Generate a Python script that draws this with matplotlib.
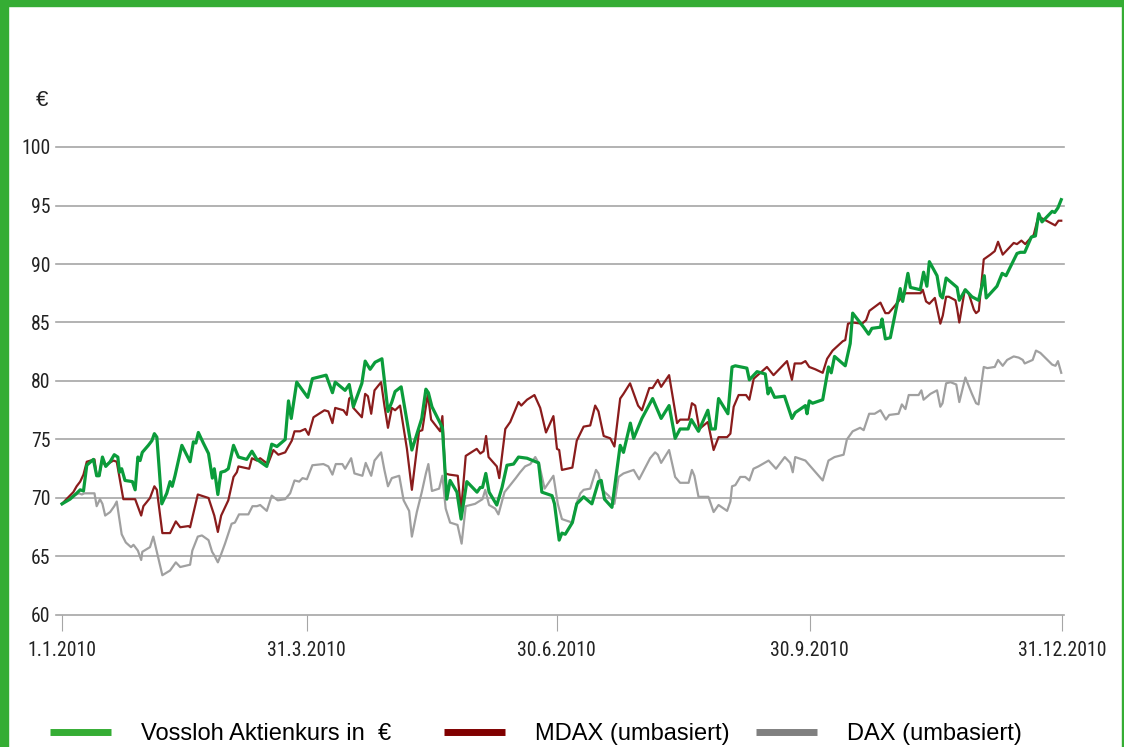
import matplotlib
matplotlib.use("Agg")
import matplotlib.pyplot as plt
from matplotlib import font_manager
from matplotlib.lines import Line2D
from matplotlib.patches import Rectangle

# Tage seit 1.1.2010 und Kurswerte
vossloh_days = [0.0, 2.9, 5.3, 6.6, 7.8, 9.0, 11.4, 12.6, 13.5, 14.7, 15.9, 17.5, 19.0, 20.3, 20.9, 21.7,
                22.9, 25.6, 26.6, 27.6, 28.4, 29.2, 31.4, 32.7, 33.6, 34.5, 36.3, 38.1, 39.3, 40.1, 41.1,
                43.6, 46.6, 47.8, 48.7, 49.6, 51.4, 53.3, 54.7, 55.4, 56.7, 57.8, 59.3, 60.5, 62.4, 64.2,
                67.2, 69.1, 70.9, 72.7, 74.5, 76.3, 78.2, 81.2, 82.4, 83.4, 85.4, 89.4, 91.1, 96.1, 98.4,
                99.4, 103.0, 104.5, 106.0, 109.1, 110.3, 112.1, 113.9, 116.4, 118.6, 120.0, 121.2, 123.4,
                127.3, 130.9, 132.4, 133.3, 134.6, 137.6, 138.4, 140.0, 141.2, 143.7, 145.2, 147.3, 151.0,
                152.2, 153.0, 154.2, 155.4, 158.2, 160.1, 161.9, 164.3, 166.1, 169.2, 173.4, 174.6, 178.3,
                179.2, 180.9, 181.9, 183.1, 185.7, 187.3, 189.8, 192.8, 195.2, 196.2, 197.4, 200.1, 203.1,
                204.3, 206.8, 208.0, 211.0, 214.9, 218.0, 220.9, 223.1, 224.9, 227.8, 229.0, 231.6, 235.0,
                236.2, 237.7, 238.9, 242.3, 243.8, 245.0, 249.2, 250.1, 252.9, 255.9, 256.9, 257.7, 259.3,
                262.9, 265.6, 266.8, 270.5, 271.1, 271.9, 273.1, 276.8, 278.9, 279.9, 281.1, 285.0, 286.8,
                287.7, 291.7, 293.5, 294.7, 297.8, 298.4, 299.6, 301.4, 305.0, 305.9, 307.8, 308.7, 312.3,
                313.5, 314.7, 315.6, 318.4, 319.6, 320.4, 321.7, 325.7, 326.5, 328.7, 331.1, 333.5, 335.6,
                336.3, 340.2, 342.1, 343.5, 347.5, 348.7, 350.3, 352.7, 354.2, 355.4, 356.6, 360.3, 361.2,
                362.4, 363.6]
vossloh = [69.5, 69.9, 70.4, 70.7, 70.6, 72.8, 73.3, 71.9, 71.9, 73.5, 72.7, 73.1, 73.7, 73.5, 72.2, 72.5,
           71.5, 71.4, 70.7, 73.5, 73.2, 73.9, 74.5, 74.9, 75.5, 75.2, 69.5, 70.4, 71.4, 71.0, 71.9,
           74.5, 73.1, 74.8, 74.7, 75.6, 74.7, 73.8, 71.7, 72.5, 70.3, 72.2, 72.3, 72.5, 74.5, 73.5,
           73.3, 74.0, 73.3, 73.0, 72.7, 74.6, 74.4, 75.0, 78.3, 76.8, 79.9, 78.6, 80.2, 80.5, 79.0,
           79.9, 79.2, 79.7, 77.8, 79.8, 81.7, 81.0, 81.6, 81.9, 77.4, 78.2, 79.1, 79.5,
           74.1, 76.8, 79.3, 79.0, 77.8, 76.4, 76.0, 69.9, 71.5, 70.5, 68.2, 71.4, 70.5,
           70.9, 70.9, 72.1, 70.5, 69.4, 70.9, 72.8, 72.9, 73.5, 73.4, 73.0, 70.5, 70.2,
           69.5, 66.4, 67.0, 66.9, 67.9, 69.5, 70.1, 69.5, 71.4, 71.5, 69.9, 69.2, 74.5,
           73.9, 76.4, 75.1, 76.8, 78.5, 76.8, 77.9, 75.1, 75.9, 75.9, 76.7, 75.7, 77.5,
           75.9, 75.9, 78.5, 77.2, 81.2, 81.3, 81.1, 80.1, 80.8, 80.6, 78.9, 79.4, 78.6,
           78.7, 76.8, 77.3, 77.9, 77.2, 78.3, 78.1, 78.4, 81.2, 80.7, 82.1, 81.3, 83.2,
           85.8, 84.6, 84.0, 84.5, 84.6, 85.3, 83.6, 83.7, 87.9, 86.8, 89.2, 88.0, 87.8,
           89.3, 88.1, 90.2, 89.0, 87.3, 87.1, 88.8, 88.0, 86.9, 87.8, 87.2, 86.9, 89.0,
           87.1, 88.1, 89.2, 89.0, 90.9, 91.0, 91.0, 92.3, 92.4, 94.3, 93.6, 94.5, 94.4,
           94.8, 95.5]

mdax_days = [0.0, 1.6, 4.1, 5.3, 6.6, 7.8, 9.0, 11.8, 12.6, 13.5, 14.5, 15.7, 18.7, 19.9, 22.3, 26.6,
             28.8, 29.6, 32.0, 33.6, 34.5, 36.5, 39.3, 41.4, 43.0, 46.0, 46.6, 49.4, 53.3, 55.4, 56.7,
             57.9, 59.3, 60.5, 62.4, 63.6, 64.2, 68.1, 69.1, 70.9, 72.1, 74.9, 76.9, 78.7, 81.2, 83.6,
             84.6, 86.6, 88.5, 89.7, 91.5, 95.5, 96.9, 98.4, 99.4, 102.4, 103.6, 104.5, 105.5, 106.0,
             109.1, 110.3, 111.3, 112.5, 113.7, 116.1, 117.3, 118.6, 120.0, 121.2, 123.0, 125.5, 127.3,
             129.9, 131.1, 133.1, 134.3, 137.6, 138.4, 139.4, 140.9, 144.0, 145.2, 146.9, 150.9, 152.2,
             153.4, 154.3, 155.2, 158.2, 159.1, 161.3, 163.1, 166.1, 167.1, 169.2, 171.9, 174.0, 176.1,
             178.8, 180.1, 180.9, 181.9, 185.7, 187.3, 189.8, 192.2, 194.0, 195.2, 197.1, 199.5, 201.0,
             203.1, 204.3, 206.7, 209.6, 211.0, 213.7, 214.9, 216.8, 218.0, 220.9, 223.8, 224.9, 228.0,
             229.2, 230.4, 231.9, 235.0, 237.1, 238.9, 242.0, 243.2, 244.4, 246.2, 248.9, 250.1, 251.7,
             254.1, 256.5, 258.9, 263.8, 265.6, 266.6, 269.0, 270.5, 271.9, 274.1, 276.8, 278.4, 280.4,
             284.1, 285.0, 286.0, 287.7, 291.1, 292.6, 293.8, 297.8, 299.6, 300.8, 303.3, 305.7, 306.9,
             312.4, 313.2, 314.4, 315.6, 317.6, 318.8, 319.6, 320.5, 321.7, 322.7, 325.1, 325.7, 326.5,
             328.5, 329.9, 331.8, 332.6, 333.6, 335.4, 337.8, 339.4, 340.6, 342.3, 343.9, 346.3, 347.5,
             349.1, 350.5, 352.0, 353.6, 355.2, 356.6, 359.0, 361.4, 362.6, 363.6]
mdax = [69.5, 69.9, 70.5, 71.0, 71.4, 72.0, 73.1, 73.3, 71.9, 71.9, 73.2, 72.8, 73.2, 73.1, 69.9, 69.9,
        68.5, 69.3, 70.0, 71.0, 70.7, 67.0, 67.0, 68.0, 67.5, 67.6, 67.5, 70.3, 70.0, 68.5, 67.1,
        68.5, 69.2, 69.8, 71.8, 72.2, 72.7, 72.5, 73.4, 73.2, 73.4, 72.9, 74.1, 73.7, 73.9, 74.9,
        75.7, 75.7, 75.9, 75.4, 76.9, 77.5, 77.4, 76.4, 77.7, 77.5, 77.1, 78.5, 78.7, 77.7,
        76.9, 78.9, 78.7, 77.2, 79.2, 79.9, 77.9, 76.0, 77.7, 77.5, 77.9, 74.2, 70.7,
        75.7, 75.8, 78.9, 76.7, 75.7, 77.0, 72.1, 72.0, 71.9, 68.9, 73.6, 74.2, 73.8,
        74.0, 75.3, 73.5, 72.7, 71.7, 75.9, 76.5, 78.2, 77.9, 78.4, 78.8, 77.7, 75.6,
        77.0, 74.2, 74.1, 72.4, 72.6, 74.9, 76.1, 76.2, 77.9, 77.4, 75.3, 75.1, 74.4,
        78.5, 78.9, 79.8, 77.9, 77.5, 79.4, 79.4, 80.1, 79.5, 80.5, 76.4, 76.7, 76.7,
        78.1, 77.9, 75.9, 76.5, 74.1, 75.2, 75.2, 75.5, 77.8, 78.8, 78.8, 78.4, 80.2,
        80.7, 81.2, 80.5, 81.7, 80.1, 81.5, 81.5, 81.7, 81.2, 81.0, 80.7, 81.9, 82.6,
        83.4, 83.5, 84.9, 85.0, 84.9, 85.2, 86.0, 86.7, 85.8, 85.8, 86.5, 87.2, 87.5,
        87.5, 87.8, 86.8, 86.6, 87.1, 85.8, 84.9, 85.6, 87.2, 87.2, 86.9, 86.2, 85.0,
        87.8, 87.5, 86.1, 85.8, 86.0, 90.4, 90.8, 91.1, 91.9, 90.8, 91.2, 91.8, 91.7,
        92.0, 91.7, 92.1, 92.5, 94.0, 93.9, 93.6, 93.3, 93.7, 93.7]

dax_days = [0.0, 2.2, 4.1, 6.2, 7.2, 8.1, 9.6, 11.8, 12.6, 13.8, 14.7, 15.7, 17.5, 19.0, 19.9, 21.7,
            23.2, 25.1, 26.0, 27.6, 28.8, 29.2, 32.0, 33.2, 34.1, 36.5, 39.3, 41.4, 43.0, 46.6, 47.4,
            49.4, 50.9, 53.3, 54.6, 55.4, 56.7, 57.9, 59.3, 61.7, 62.9, 64.4, 67.8, 69.3, 70.9, 72.1,
            74.5, 76.3, 78.5, 81.2, 83.0, 84.6, 86.3, 87.5, 89.1, 91.1, 95.1, 96.9, 98.4, 99.6, 102.0,
            103.0, 105.2, 106.4, 109.3, 110.5, 112.5, 113.7, 116.1, 117.3, 118.6, 120.0, 122.7, 124.3,
            126.3, 127.3, 129.1, 130.9, 132.4, 133.3, 134.6, 137.2, 138.4, 139.6, 141.2, 143.9, 145.4,
            146.9, 150.3, 153.0, 154.0, 155.4, 157.6, 158.8, 161.0, 162.4, 165.1, 166.7, 168.5, 170.4,
            172.2, 173.6, 175.6, 178.8, 180.4, 181.9, 183.1, 185.7, 187.3, 188.6, 189.8, 192.2, 194.3,
            195.2, 196.5, 198.9, 201.0, 202.5, 204.3, 208.0, 210.0, 214.0, 215.8, 216.8, 218.0, 220.9,
            223.1, 224.9, 228.0, 229.2, 230.1, 231.6, 235.2, 237.1, 238.9, 242.0, 243.2, 243.8, 245.0,
            246.8, 248.6, 250.1, 251.6, 253.4, 257.1, 259.8, 263.0, 265.0, 265.9, 266.8, 270.5, 276.8,
            278.9, 281.1, 284.4, 285.6, 287.7, 290.4, 291.7, 293.7, 295.7, 297.8, 299.8, 301.0, 304.4,
            305.6, 306.9, 308.1, 311.7, 312.7, 313.5, 316.0, 318.4, 319.6, 320.4, 321.7, 323.3, 325.4,
            326.5, 328.7, 331.1, 332.6, 333.5, 335.4, 336.7, 339.4, 340.6, 342.3, 343.9, 346.3, 348.1,
            349.6, 350.3, 353.2, 354.4, 356.0, 360.3, 361.5, 362.4, 363.6]
dax = [69.5, 69.9, 70.2, 70.4, 70.3, 70.4, 70.4, 70.4, 69.3, 69.9, 69.5, 68.5, 68.8, 69.3, 69.7, 66.9,
       66.2, 65.8, 66.0, 65.5, 64.7, 65.4, 65.8, 66.7, 65.8, 63.4, 63.8, 64.5, 64.1, 64.3, 65.5,
       66.7, 66.8, 66.4, 65.4, 65.1, 64.5, 65.2, 66.1, 67.8, 67.9, 68.6, 68.6, 69.3, 69.3, 69.4,
       68.9, 70.2, 69.8, 69.9, 70.4, 71.5, 71.4, 71.7, 71.6, 72.8, 72.9, 72.7, 72.0, 72.9, 72.9,
       72.5, 73.4, 72.1, 71.9, 73.0, 71.9, 73.2, 73.9, 72.4, 71.0, 71.7, 71.9, 69.8,
       68.9, 66.7, 68.8, 70.5, 72.1, 72.9, 70.6, 70.8, 71.9, 69.1, 67.9, 67.7, 66.1,
       69.3, 69.5, 69.9, 70.7, 69.4, 69.1, 68.6, 70.5, 70.9, 71.7, 72.2, 72.7, 72.9,
       73.5, 72.9, 70.8, 71.9, 69.5, 68.2, 68.1, 67.9, 69.6, 70.4, 70.7, 70.8, 72.4,
       72.1, 70.7, 70.2, 69.5, 71.8, 72.1, 72.4, 71.6, 73.4, 73.9, 73.7, 73.0, 74.1,
       71.8, 71.3, 71.3, 72.4, 71.9, 70.1, 70.1, 68.8, 69.4, 68.9, 69.7, 71.0, 71.1,
       71.8, 71.8, 71.5, 72.5, 72.7, 73.2, 72.5, 73.5, 73.0, 72.2, 73.5, 73.2, 71.5,
       73.2, 73.5, 73.7, 75.0, 75.7, 76.0, 75.8, 77.2, 77.2, 77.5, 76.7, 77.1, 77.2,
       78.0, 77.6, 78.8, 78.8, 79.2, 78.4, 78.9, 79.2, 77.8, 78.1, 79.8, 79.9, 79.7,
       78.2, 80.3, 78.9, 78.1, 78.0, 81.2, 81.1, 81.2, 81.8, 81.3, 81.8, 82.1, 82.0,
       81.8, 81.5, 81.8, 82.6, 82.4, 81.4, 81.3, 81.7, 80.7]

tick_days = [0, 89, 180, 272, 364]
tick_labels = ["1.1.2010", "31.3.2010", "30.6.2010", "30.9.2010", "31.12.2010"]
y_ticks = [60, 65, 70, 75, 80, 85, 90, 95, 100]
legend_labels = ["Vossloh Aktienkurs in  €", "MDAX (umbasiert)", "DAX (umbasiert)"]
legend_colors = ["#35ad34", "#800000", "#808080"]

# schmale Schrift für die Achsen, falls vorhanden
fonts = font_manager.fontManager.ttflist
names = {f.name for f in fonts}
axis_font = {"family": ["Liberation Sans", "DejaVu Sans"], "size": 13.5}
for cand in ["Liberation Sans Narrow", "Roboto Condensed", "Open Sans Condensed", "Noto Sans Condensed"]:
    if cand in names:
        axis_font = {"family": [cand, "DejaVu Sans"], "size": 14.2}
        break
else:
    if any(f.name == "DejaVu Sans" and f.stretch == "condensed" for f in fonts):
        axis_font = {"family": ["DejaVu Sans"], "stretch": "condensed", "size": 14}

plt.rcParams["font.family"] = ["Liberation Sans", "DejaVu Sans"]

fig = plt.figure(figsize=(11.24, 7.47), dpi=100)
ax = fig.add_axes([56 / 1124, 132 / 747, 1008 / 1124, 468 / 747])

# grüner Rahmen
fig.patches.append(Rectangle((0, 0), 8 / 1124, 1, transform=fig.transFigure, color="#35ad34", zorder=0))
fig.patches.append(Rectangle((0, 1 - 6 / 747), 1, 6 / 747, transform=fig.transFigure, color="#35ad34", zorder=0))
fig.patches.append(Rectangle((1 - 2 / 1124, 0), 2 / 1124, 1, transform=fig.transFigure, color="#35ad34", zorder=0))

for y in y_ticks:
    ax.axhline(y, color="#a6a6a6", linewidth=1.2, clip_on=False, zorder=0)

ax.plot(dax_days, dax, color="#a0a0a0", linewidth=1.6, zorder=2)
ax.plot(mdax_days, mdax, color="#8a1c1c", linewidth=1.6, zorder=3)
ax.plot(vossloh_days, vossloh, color="#0b9c3b", linewidth=2.3, zorder=4)

ax.set_xlim(-2.2, 364.6)
ax.set_ylim(60, 100)
for s in ax.spines.values():
    s.set_visible(False)

ax.set_xticks(tick_days)
ax.set_xticklabels(tick_labels, color="#222222", **axis_font)
ax.set_yticks(y_ticks)
ax.set_yticklabels([str(v) for v in y_ticks], color="#222222", **axis_font)
ax.tick_params(axis="x", length=11.5, width=0.8, color="#a6a6a6", pad=7)
ax.tick_params(axis="y", length=0, pad=4)

fig.text(42 / 1124, 1 - 100 / 747, "€", fontsize=16, ha="center", va="center", color="#222222")

# Legende: drei Einträge, einzeln platziert
for label, color, x0 in zip(legend_labels, legend_colors, [50, 444, 756]):
    h = Line2D([], [], color=color, linewidth=5, solid_capstyle="butt")
    fig.legend([h], [label], loc="center left", bbox_to_anchor=(x0 / 1124, 1 - 734 / 747),
               frameon=False, borderpad=0, borderaxespad=0, handlelength=2.6, handletextpad=1.25,
               prop={"family": ["Liberation Sans", "DejaVu Sans"], "size": 17})

fig.savefig("out.png", dpi=100)
